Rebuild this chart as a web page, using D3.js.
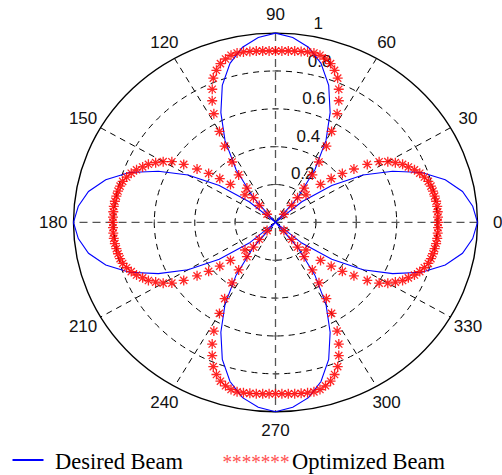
<!DOCTYPE html>
<html>
<head>
<meta charset="utf-8">
<script src="https://cdn.jsdelivr.net/npm/d3@7"></script>
<style>
  body { margin: 0; background: #fff; }
  svg { display: block; }
</style>
</head>
<body>
<div id="chart"></div>
<script>
// desired beam, read every 5 degrees (0..355)
const desiredAngles = d3.range(0, 360, 5);
const desiredBeam = [
  1.00, 0.98, 0.94, 0.87, 0.77, 0.64, 0.50, 0.34, 0.17, 0.00, 0.17, 0.34, 0.50, 0.64, 0.77, 0.87, 0.94, 0.98,
  1.00, 0.98, 0.94, 0.87, 0.77, 0.64, 0.50, 0.34, 0.17, 0.00, 0.17, 0.34, 0.50, 0.64, 0.77, 0.87, 0.94, 0.98,
  1.00, 0.98, 0.94, 0.87, 0.77, 0.64, 0.50, 0.34, 0.17, 0.00, 0.17, 0.34, 0.50, 0.64, 0.77, 0.87, 0.94, 0.98,
  1.00, 0.98, 0.94, 0.87, 0.77, 0.64, 0.50, 0.34, 0.17, 0.00, 0.17, 0.34, 0.50, 0.64, 0.77, 0.87, 0.94, 0.98
];

// optimized beam markers, read every 2 degrees (0..358)
const optimizedAngles = d3.range(0, 360, 2);
const optimizedBeam = [
  0.805, 0.805, 0.805, 0.805, 0.803, 0.800, 0.797, 0.793, 0.787, 0.775, 0.760, 0.742, 0.720, 0.700, 0.672,
  0.642, 0.605, 0.548, 0.480, 0.420, 0.360, 0.300, 0.210, 0.060, 0.120, 0.170, 0.230, 0.310, 0.385, 0.475,
  0.555, 0.650, 0.715, 0.770, 0.822, 0.855, 0.882, 0.898, 0.910, 0.915, 0.914, 0.912, 0.910, 0.908, 0.906,
  0.905, 0.906, 0.908, 0.910, 0.912, 0.914, 0.915, 0.910, 0.898, 0.882, 0.855, 0.822, 0.770, 0.715, 0.650,
  0.555, 0.475, 0.385, 0.310, 0.230, 0.170, 0.120, 0.060, 0.210, 0.300, 0.360, 0.420, 0.480, 0.548, 0.605,
  0.642, 0.672, 0.700, 0.720, 0.742, 0.760, 0.775, 0.787, 0.793, 0.797, 0.800, 0.803, 0.805, 0.805, 0.805,
  0.805, 0.805, 0.805, 0.805, 0.803, 0.800, 0.797, 0.793, 0.787, 0.775, 0.760, 0.742, 0.720, 0.700, 0.672,
  0.642, 0.605, 0.548, 0.480, 0.420, 0.360, 0.300, 0.210, 0.060, 0.120, 0.170, 0.230, 0.310, 0.385, 0.475,
  0.555, 0.650, 0.715, 0.770, 0.822, 0.855, 0.882, 0.898, 0.910, 0.915, 0.914, 0.912, 0.910, 0.908, 0.906,
  0.905, 0.906, 0.908, 0.910, 0.912, 0.914, 0.915, 0.910, 0.898, 0.882, 0.855, 0.822, 0.770, 0.715, 0.650,
  0.555, 0.475, 0.385, 0.310, 0.230, 0.170, 0.120, 0.060, 0.210, 0.300, 0.360, 0.420, 0.480, 0.548, 0.605,
  0.642, 0.672, 0.700, 0.720, 0.742, 0.760, 0.775, 0.787, 0.793, 0.797, 0.800, 0.803, 0.805, 0.805, 0.805
];

const ringValues = [0.2, 0.4, 0.6, 0.8];
const ringLabels = ["0.2", "0.4", "0.6", "0.8", "1"];
const spokeAngles = [0, 30, 60, 90, 120, 150];
const angleLabels = ["0", "30", "60", "90", "120", "150", "180", "210", "240", "270", "300", "330"];

const width = 502, height = 475;
const cx = 275.5, cy = 222.4, rx = 202, ry = 189.3;

const svg = d3.select("#chart").append("svg")
    .attr("width", width)
    .attr("height", height);

// the polar axes are slightly stretched in MATLAB, so x and y get their own scale
const x = d3.scaleLinear().domain([-1, 1]).range([cx - rx, cx + rx]);
const y = d3.scaleLinear().domain([-1, 1]).range([cy + ry, cy - ry]);
const rad = a => a * Math.PI / 180;
const px = (r, a) => x(r * Math.cos(rad(a)));
const py = (r, a) => y(r * Math.sin(rad(a)));

const grid = svg.append("g");

// dashed rings
grid.selectAll(".ring")
    .data(ringValues)
    .enter()
    .append("ellipse")
    .attr("cx", x(0))
    .attr("cy", y(0))
    .attr("rx", d => x(d) - x(0))
    .attr("ry", d => y(0) - y(d))
    .attr("fill", "none")
    .attr("stroke", "#000")
    .attr("stroke-width", 1)
    .attr("stroke-dasharray", "6,5");

// spokes, the 0 and 90 ones are grey with longer dashes
grid.selectAll(".spoke")
    .data(spokeAngles)
    .enter()
    .append("line")
    .attr("x1", d => px(1, d))
    .attr("y1", d => py(1, d))
    .attr("x2", d => px(1, d + 180))
    .attr("y2", d => py(1, d + 180))
    .attr("stroke", d => d % 90 === 0 ? "#555" : "#000")
    .attr("stroke-width", d => d % 90 === 0 ? 1.3 : 1)
    .attr("stroke-dasharray", d => d % 90 === 0 ? "8,5" : "6,5");

// little ticks where rings cross the main axes
const tickData = [];
[0, 90, 180, 270].forEach(a => ringValues.concat([1]).forEach(r => tickData.push({ a, r })));
grid.selectAll(".tick")
    .data(tickData)
    .enter()
    .append("line")
    .attr("x1", d => px(d.r, d.a) - (d.a % 180 === 0 ? 0 : 3))
    .attr("x2", d => px(d.r, d.a) + (d.a % 180 === 0 ? 0 : 3))
    .attr("y1", d => py(d.r, d.a) - (d.a % 180 === 0 ? 3 : 0))
    .attr("y2", d => py(d.r, d.a) + (d.a % 180 === 0 ? 3 : 0))
    .attr("stroke", "#555")
    .attr("stroke-width", 1);

// outer circle
grid.append("ellipse")
    .attr("cx", x(0))
    .attr("cy", y(0))
    .attr("rx", x(1) - x(0))
    .attr("ry", y(0) - y(1))
    .attr("fill", "none")
    .attr("stroke", "#000")
    .attr("stroke-width", 1.4);

// angle labels at 1.1 * rmax
svg.selectAll(".alabel")
    .data(angleLabels)
    .enter()
    .append("text")
    .attr("x", (d, i) => px(1.1, i * 30))
    .attr("y", (d, i) => py(1.1, i * 30))
    .attr("text-anchor", "middle")
    .attr("dominant-baseline", "central")
    .attr("font-family", "Liberation Sans, Arial, sans-serif")
    .attr("font-size", 17)
    .attr("fill", "#111")
    .text(d => d);

// radial labels along 82 degrees
svg.selectAll(".rlabel")
    .data(ringLabels)
    .enter()
    .append("text")
    .attr("x", (d, i) => px((i + 1) * 0.2 + 0.01, 82) + 9.5)
    .attr("y", (d, i) => py((i + 1) * 0.2 + 0.01, 82) - 4)
    .attr("font-family", "Liberation Sans, Arial, sans-serif")
    .attr("font-size", 17)
    .attr("fill", "#111")
    .text(d => d);

// desired beam
const line = d3.line()
    .x((d, i) => px(d, desiredAngles[i]))
    .y((d, i) => py(d, desiredAngles[i]))
    .curve(d3.curveLinearClosed);

svg.append("path")
    .datum(desiredBeam)
    .attr("d", line)
    .attr("fill", "none")
    .attr("stroke", "#0000ff")
    .attr("stroke-width", 1.1);

// optimized beam as asterisk markers
const star = "M-5,0H5M0,-5V5M-3.6,-3.6L3.6,3.6M-3.6,3.6L3.6,-3.6";
svg.selectAll(".star")
    .data(optimizedBeam)
    .enter()
    .append("path")
    .attr("d", star)
    .attr("transform", (d, i) => `translate(${px(d, optimizedAngles[i])},${py(d, optimizedAngles[i])})`)
    .attr("fill", "none")
    .attr("stroke", "#ff0000")
    .attr("stroke-opacity", 0.85)
    .attr("stroke-width", 1.3);

// legend
const legend = svg.append("g");
legend.append("line")
    .attr("x1", 12.5).attr("x2", 43.5)
    .attr("y1", 460).attr("y2", 460)
    .attr("stroke", "#0000ff")
    .attr("stroke-width", 2);
legend.append("text")
    .attr("x", 55).attr("y", 469)
    .attr("font-family", "Liberation Serif, Times New Roman, serif")
    .attr("font-size", 22.5)
    .attr("fill", "#000")
    .text("Desired Beam");
legend.append("text")
    .attr("x", 222.5).attr("y", 469)
    .attr("font-family", "Liberation Serif, Times New Roman, serif")
    .attr("font-size", 20)
    .attr("fill", "#ff5050")
    .attr("textLength", 67)
    .attr("lengthAdjust", "spacingAndGlyphs")
    .text("*******");
legend.append("text")
    .attr("x", 292).attr("y", 469)
    .attr("font-family", "Liberation Serif, Times New Roman, serif")
    .attr("font-size", 22.5)
    .attr("fill", "#000")
    .text("Optimized Beam");
</script>
</body>
</html>
